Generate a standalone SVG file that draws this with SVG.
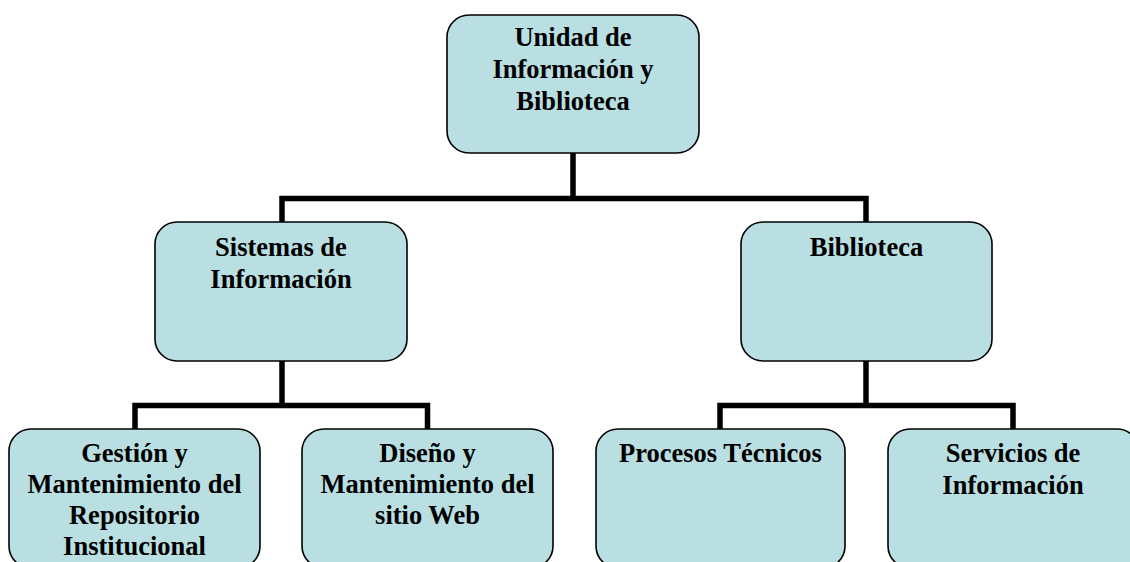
<svg xmlns="http://www.w3.org/2000/svg" width="1130" height="562" viewBox="0 0 1130 562">
<style>
.box{fill:#B9DFE3;stroke:#000;stroke-width:1.6}
.lbl{font-family:"Liberation Serif","Times New Roman",serif;font-weight:bold;font-size:26.5px;fill:#000;text-anchor:middle}
.con{fill:none;stroke:#000;stroke-width:5.5;stroke-linejoin:miter}
</style>
<rect width="1130" height="562" fill="#fff"/>
<g id="connectors">
<path class="con" d="M573,153 V198.5 M282,222 V198.5 H866 V222"/>
<path class="con" d="M282,361 V405.5 M135,429 V405.5 H427.5 V429"/>
<path class="con" d="M866,361 V405.5 M720,429 V405.5 H1013 V429"/>
</g>
<g id="n-unidad">
<rect class="box" x="447" y="15" width="252" height="138" rx="22"/>
<text class="lbl" x="573" y="46">Unidad de</text>
<text class="lbl" x="573" y="78">Información y</text>
<text class="lbl" x="573" y="110">Biblioteca</text>
</g>
<g id="n-sistemas">
<rect class="box" x="155" y="222" width="252" height="139" rx="22"/>
<text class="lbl" x="281" y="256">Sistemas de</text>
<text class="lbl" x="281" y="288">Información</text>
</g>
<g id="n-biblioteca">
<rect class="box" x="741" y="222" width="251" height="139" rx="22"/>
<text class="lbl" x="866.5" y="256">Biblioteca</text>
</g>
<g id="n-gestion">
<rect class="box" x="9" y="429" width="251" height="139" rx="22"/>
<text class="lbl" x="134.5" y="462">Gestión y</text>
<text class="lbl" x="134.5" y="493">Mantenimiento del</text>
<text class="lbl" x="134.5" y="524">Repositorio</text>
<text class="lbl" x="134.5" y="555">Institucional</text>
</g>
<g id="n-diseno">
<rect class="box" x="302" y="429" width="251" height="139" rx="22"/>
<text class="lbl" x="427.5" y="462">Diseño y</text>
<text class="lbl" x="427.5" y="493">Mantenimiento del</text>
<text class="lbl" x="427.5" y="524">sitio Web</text>
</g>
<g id="n-procesos">
<rect class="box" x="596" y="429" width="249" height="139" rx="22"/>
<text class="lbl" x="720.5" y="462">Procesos Técnicos</text>
</g>
<g id="n-servicios">
<rect class="box" x="888" y="429" width="251" height="139" rx="22"/>
<text class="lbl" x="1013" y="462">Servicios de</text>
<text class="lbl" x="1013" y="494">Información</text>
</g>
</svg>
